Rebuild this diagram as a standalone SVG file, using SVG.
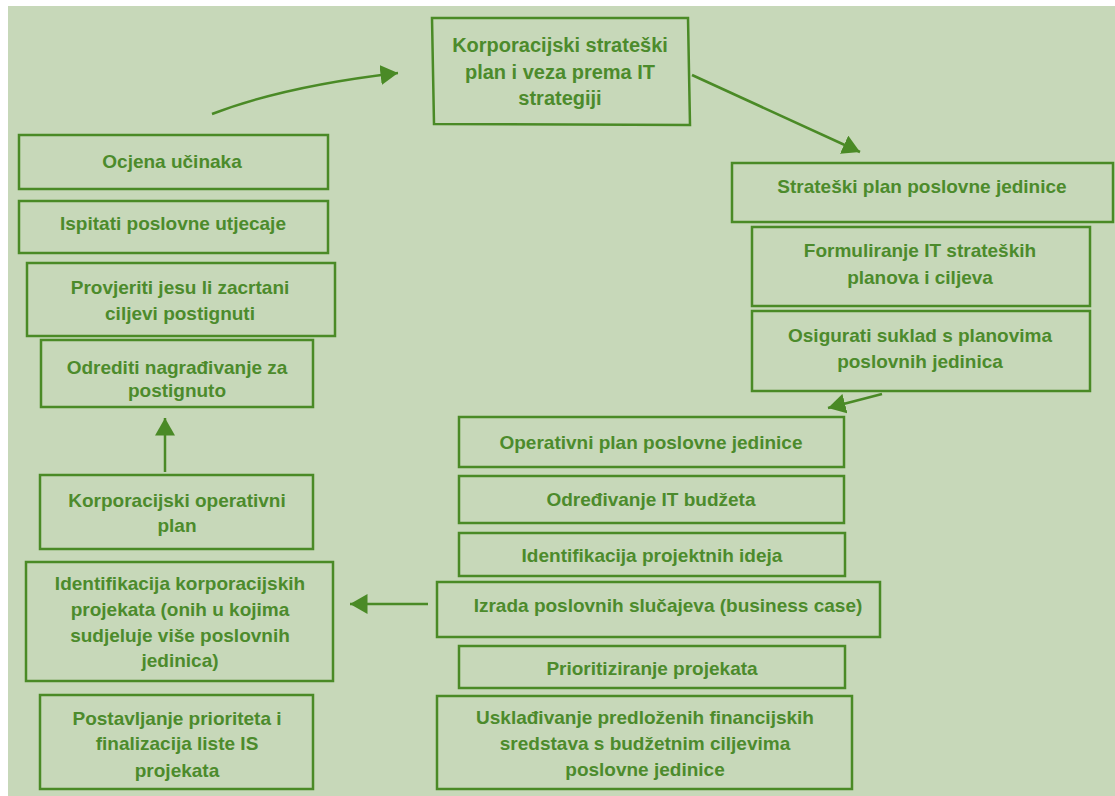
<svg xmlns="http://www.w3.org/2000/svg" width="1115" height="796" viewBox="0 0 1115 796">
<defs>
<style>
.bx{fill:none;stroke:#4a8a26;stroke-width:2.5}
.t{font-family:"Liberation Sans",Arial,sans-serif;font-weight:bold;font-size:19px;fill:#4c8b2c;text-anchor:middle}
.tt{font-family:"Liberation Sans",Arial,sans-serif;font-weight:bold;font-size:20px;fill:#4c8b2c;text-anchor:middle}
.ln{fill:none;stroke:#4a8a26;stroke-width:2.5}
</style>
<marker id="ah" markerWidth="8" markerHeight="8" refX="7" refY="4" orient="auto" markerUnits="strokeWidth">
<path d="M0,0 L7,4 L0,8 Z" fill="#4a8a26"/>
</marker>
</defs>
<rect x="0" y="0" width="1115" height="796" fill="#ffffff"/>
<rect x="8" y="6" width="1107" height="790" fill="#c7d8b9"/>

<g id="n-top">
<path class="bx" d="M432,18 L688,18 L690,125 L434,124 Z"/>
<text class="tt" x="560" y="52">Korporacijski strateški</text>
<text class="tt" x="560" y="79">plan i veza prema IT</text>
<text class="tt" x="560" y="105">strategiji</text>
</g>

<g id="n-ocjena">
<rect class="bx" x="19" y="135" width="309" height="54"/>
<text class="t" x="172" y="168">Ocjena učinaka</text>
</g>
<g id="n-ispitati">
<rect class="bx" x="19" y="201" width="309" height="52"/>
<text class="t" x="173" y="230">Ispitati poslovne utjecaje</text>
</g>
<g id="n-provjeriti">
<rect class="bx" x="27" y="263" width="308" height="73"/>
<text class="t" x="180" y="294">Provjeriti jesu li zacrtani</text>
<text class="t" x="180" y="320">ciljevi postignuti</text>
</g>
<g id="n-odrediti">
<rect class="bx" x="41" y="340" width="272" height="67"/>
<text class="t" x="177" y="374">Odrediti nagrađivanje za</text>
<text class="t" x="177" y="397">postignuto</text>
</g>
<g id="n-korpop">
<rect class="bx" x="40" y="475" width="273" height="74"/>
<text class="t" x="177" y="507">Korporacijski operativni</text>
<text class="t" x="177" y="532">plan</text>
</g>
<g id="n-identkorp">
<rect class="bx" x="26" y="562" width="307" height="119"/>
<text class="t" x="180" y="590">Identifikacija korporacijskih</text>
<text class="t" x="180" y="616">projekata (onih u kojima</text>
<text class="t" x="180" y="642">sudjeluje više poslovnih</text>
<text class="t" x="180" y="667">jedinica)</text>
</g>
<g id="n-postavljanje">
<rect class="bx" x="40" y="695" width="273" height="94"/>
<text class="t" x="177" y="725">Postavljanje prioriteta i</text>
<text class="t" x="177" y="750">finalizacija liste IS</text>
<text class="t" x="177" y="777">projekata</text>
</g>

<g id="n-strateski">
<rect class="bx" x="732" y="163" width="381" height="59"/>
<text class="t" x="922" y="193">Strateški plan poslovne jedinice</text>
</g>
<g id="n-formuliranje">
<rect class="bx" x="752" y="227" width="338" height="79"/>
<text class="t" x="920" y="257">Formuliranje IT strateških</text>
<text class="t" x="920" y="284">planova i ciljeva</text>
</g>
<g id="n-osigurati">
<rect class="bx" x="752" y="311" width="338" height="80"/>
<text class="t" x="920" y="342">Osigurati suklad s planovima</text>
<text class="t" x="920" y="368">poslovnih jedinica</text>
</g>
<g id="n-operativni">
<rect class="bx" x="459" y="417" width="385" height="50"/>
<text class="t" x="651" y="449">Operativni plan poslovne jedinice</text>
</g>
<g id="n-odredivanje">
<rect class="bx" x="459" y="476" width="385" height="47"/>
<text class="t" x="651" y="506">Određivanje IT budžeta</text>
</g>
<g id="n-identproj">
<rect class="bx" x="459" y="533" width="386" height="43"/>
<text class="t" x="652" y="562">Identifikacija projektnih ideja</text>
</g>
<g id="n-izrada">
<rect class="bx" x="437" y="582" width="443" height="55"/>
<text class="t" x="668" y="612">Izrada poslovnih slučajeva (business case)</text>
</g>
<g id="n-prioritiziranje">
<rect class="bx" x="459" y="646" width="386" height="42"/>
<text class="t" x="652" y="675">Prioritiziranje projekata</text>
</g>
<g id="n-uskladivanje">
<rect class="bx" x="437" y="696" width="415" height="93"/>
<text class="t" x="645" y="724">Usklađivanje predloženih financijskih</text>
<text class="t" x="645" y="750">sredstava s budžetnim ciljevima</text>
<text class="t" x="645" y="776">poslovne jedinice</text>
</g>

<g id="connectors">
<path class="ln" d="M212,114 Q285,86 398,73" marker-end="url(#ah)"/>
<path class="ln" d="M692,75 L860,152" marker-end="url(#ah)"/>
<path class="ln" d="M882,394 L828,408" marker-end="url(#ah)"/>
<path class="ln" d="M165,472 L165,418" marker-end="url(#ah)"/>
<path class="ln" d="M428,604 L350,604" marker-end="url(#ah)"/>
</g>
</svg>
